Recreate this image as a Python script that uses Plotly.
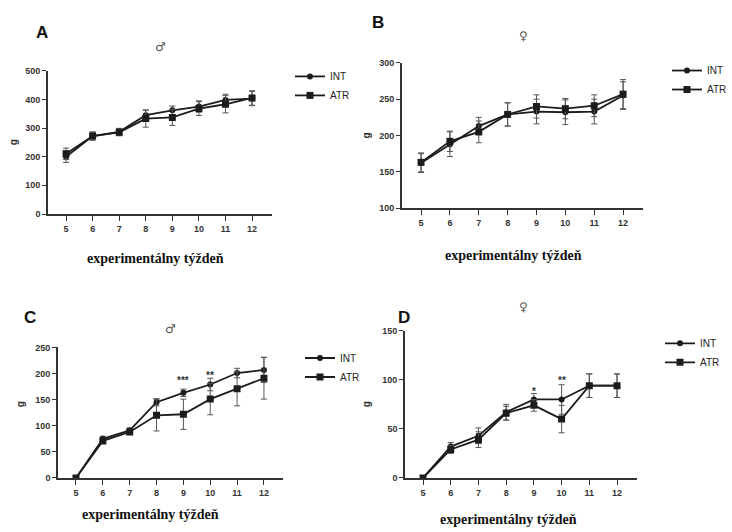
import plotly.graph_objects as go

W, H = 732, 532
weeks = [5, 6, 7, 8, 9, 10, 11, 12]

# Panel A (male body weight, g)
a_int = [200, 272, 287, 345, 362, 375, 398, 403]
a_int_err = [20, 14, 12, 18, 15, 20, 20, 25]
a_atr = [210, 272, 285, 333, 337, 368, 383, 405]
a_atr_err = [20, 14, 12, 30, 28, 24, 30, 25]

# Panel B (female body weight, g)
b_int = [162, 188, 213, 229, 233, 232, 233, 255]
b_int_err = [13, 17, 12, 16, 17, 17, 17, 19]
b_atr = [163, 192, 205, 229, 240, 237, 241, 257]
b_atr_err = [13, 14, 15, 16, 16, 14, 15, 20]

# Panel C (male weight gain, g)
c_int = [0, 75, 91, 145, 163, 179, 201, 207]
c_int_err = [0, 5, 5, 7, 7, 12, 9, 24]
c_atr = [0, 71, 88, 120, 122, 151, 171, 191]
c_atr_err = [0, 5, 5, 30, 29, 30, 33, 40]

# Panel D (female weight gain, g)
d_int = [0, 32, 43, 67, 80, 80, 94, 94]
d_int_err = [0, 4, 8, 8, 6, 15, 12, 12]
d_atr = [0, 29, 39, 66, 74, 60, 94, 94]
d_atr_err = [0, 4, 8, 7, 6, 14, 12, 12]

series_names = ["INT", "ATR"]
panel_letters = ["A", "B", "C", "D"]
sex_labels = ["♂", "♀", "♂", "♀"]
x_title = "experimentálny týždeň"
y_title = "g"

# significance marks (week, y, text)
c_stars = [(9, 186, "***"), (10, 196, "**")]
d_stars = [(9, 88, "*"), (10, 99, "**")]

def px_x(p):
    return p / W

def px_y(p):
    return 1 - p / H

# panel layout in pixels
panels = [
    dict(x0=48, x1=272, yt=67, yb=213, yr=[0, 500], dt=100, xr=[4.32, 12.75]),
    dict(x0=402, x1=643, yt=59, yb=207, yr=[100, 300], dt=50, xr=[4.34, 12.69]),
    dict(x0=58, x1=283, yt=349, yb=482, yr=[0, 250], dt=50, xr=[4.33, 12.71]),
    dict(x0=405, x1=637, yt=332, yb=482, yr=[0, 150], dt=50, xr=[4.35, 12.72]),
]
data = [
    (a_int, a_int_err, a_atr, a_atr_err),
    (b_int, b_int_err, b_atr, b_atr_err),
    (c_int, c_int_err, c_atr, c_atr_err),
    (d_int, d_int_err, d_atr, d_atr_err),
]
legend_pos = [(290, 58), (667, 52), (300, 345), (660, 330)]

fig = go.Figure()
line_col = "#1c1c1c"
tick_font = dict(family="Liberation Sans", size=9, color="#333333", weight="bold")

for i, (p, d) in enumerate(zip(panels, data)):
    sfx = "" if i == 0 else str(i + 1)
    leg = "legend" if i == 0 else "legend" + str(i + 1)
    vals_int, err_int, vals_atr, err_atr = d
    for name, vals, errs, sym in [("INT", vals_int, err_int, "circle"),
                                  ("ATR", vals_atr, err_atr, "square")]:
        fig.add_trace(go.Scatter(
            x=weeks, y=vals, name=name, mode="lines+markers",
            xaxis="x" + sfx, yaxis="y" + sfx, legend=leg,
            line=dict(color=line_col, width=1.8),
            marker=dict(symbol=sym, size=7 if sym == "square" else 6, color=line_col),
            error_y=dict(type="data", array=errs, visible=True, width=3,
                         thickness=1, color="#555555"),
        ))
    fig.layout["xaxis" + sfx] = dict(
        domain=[px_x(p["x0"]), px_x(p["x1"])], range=p["xr"],
        anchor="y" + sfx, tickmode="array", tickvals=weeks,
        ticktext=[str(w) for w in weeks], ticks="outside", ticklen=5,
        tickwidth=1.3, tickcolor="#333", showline=True, linecolor="#333",
        linewidth=1.6, showgrid=False, zeroline=False, tickfont=tick_font,
    )
    fig.layout["yaxis" + sfx] = dict(
        domain=[px_y(p["yb"]), px_y(p["yt"])], range=p["yr"], dtick=p["dt"],
        anchor="x" + sfx, ticks="outside", ticklen=4, tickwidth=1.3,
        tickcolor="#333", showline=True, linecolor="#333", linewidth=1.6,
        showgrid=False, zeroline=False, tickfont=tick_font,
    )
    lx, ly = legend_pos[i]
    fig.layout[leg] = dict(
        x=px_x(lx), y=px_y(ly), xanchor="left", yanchor="top",
        bgcolor="rgba(0,0,0,0)", font=dict(family="Liberation Sans", size=10, color="#222"),
        itemwidth=30, tracegroupgap=0,
    )

annotations = []
letter_pos = [(42, 28), (378, 18), (30, 318), (404, 318)]
for t, (x, y) in zip(panel_letters, letter_pos):
    annotations.append(dict(text="<b>" + t + "</b>", x=px_x(x), y=px_y(y), xref="paper", yref="paper",
                            showarrow=False, font=dict(family="Liberation Sans", size=17, color="#111"),
                            xanchor="center", yanchor="middle"))
sex_pos = [(160, 43), (523, 32), (170, 330), (523, 308)]
for t, (x, y) in zip(sex_labels, sex_pos):
    annotations.append(dict(text=t, x=px_x(x), y=px_y(y), xref="paper", yref="paper",
                            showarrow=False, font=dict(family="DejaVu Sans", size=12, color="#555"),
                            xanchor="center", yanchor="middle"))
xt_pos = [(155, 258), (513, 255), (150, 519), (508, 524)]
for (x, y) in xt_pos:
    annotations.append(dict(text="<b>" + x_title + "</b>", x=px_x(x), y=px_y(y), xref="paper",
                            yref="paper", showarrow=False,
                            font=dict(family="Liberation Serif", size=14, color="#111"),
                            xanchor="center", yanchor="middle"))
yt_pos = [(13, 140), (366, 133), (20, 407), (366, 407)]
for (x, y) in yt_pos:
    annotations.append(dict(text="<b>" + y_title + "</b>", x=px_x(x), y=px_y(y), xref="paper",
                            yref="paper", showarrow=False, textangle=-90,
                            font=dict(family="Liberation Sans", size=10, color="#333"),
                            xanchor="center", yanchor="middle"))
for sfx, stars in [("3", c_stars), ("4", d_stars)]:
    for (x, y, t) in stars:
        annotations.append(dict(text="<b>" + t + "</b>", x=x, y=y, xref="x" + sfx, yref="y" + sfx,
                                showarrow=False, font=dict(family="Liberation Sans", size=10, color="#333"),
                                xanchor="center", yanchor="middle"))

fig.update_layout(
    width=W, height=H, margin=dict(l=0, r=0, t=0, b=0),
    paper_bgcolor="white", plot_bgcolor="white",
    annotations=annotations, showlegend=True,
    font=dict(family="Liberation Sans", size=10, color="#222"),
)

fig.write_html("out.html")
